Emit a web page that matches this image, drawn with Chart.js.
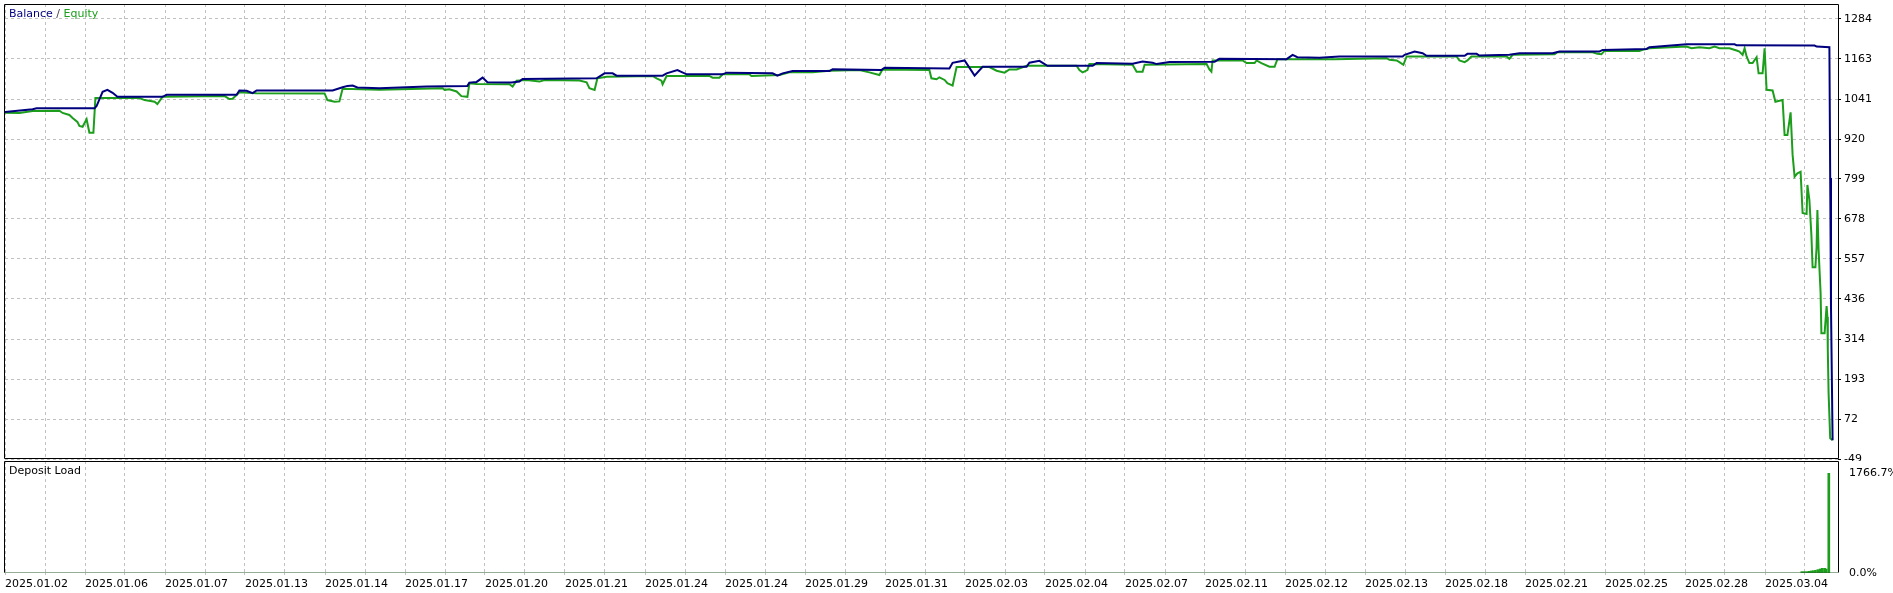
<!DOCTYPE html>
<html>
<head>
<meta charset="utf-8">
<script src="https://cdn.jsdelivr.net/npm/chart.js@4/dist/chart.umd.min.js"></script>
<style>
  body { margin: 0; width: 1893px; height: 593px; overflow: hidden; background: #fff; font-family: "DejaVu Sans", sans-serif; }
  canvas { position: absolute; left: 0; }
  #grafico { top: 0; }
  #carga { top: 459px; }
  .rotulo { position: absolute; left: 9px; font-size: 11px; white-space: nowrap; }
  #legenda { top: 7px; }
  #titulo-carga { top: 464px; color: #000; }
</style>
</head>
<body>
<canvas id="grafico" width="1893" height="461"></canvas>
<canvas id="carga" width="1893" height="134"></canvas>
<div id="legenda" class="rotulo"><span style="color:#00007f">Balance</span><span style="color:#404040"> / </span><span style="color:#1c9e1c">Equity</span></div>
<div id="titulo-carga" class="rotulo">Deposit Load</div>
<script>
const datas = [
  "2025.01.02", "2025.01.06", "2025.01.07", "2025.01.13", "2025.01.14", "2025.01.17",
  "2025.01.20", "2025.01.21", "2025.01.24", "2025.01.24", "2025.01.29", "2025.01.31",
  "2025.02.03", "2025.02.04", "2025.02.07", "2025.02.11", "2025.02.12", "2025.02.13",
  "2025.02.18", "2025.02.21", "2025.02.25", "2025.02.28", "2025.03.04",
];

// posição no teste (1 unidade = uma coluna da grade) e valores
const balancoX = [
  0, 0.69, 0.79, 2.24, 2.29, 2.44, 2.56, 2.69, 2.81, 3.94, 4.04, 5.79, 5.86, 6.04, 6.19, 6.29,
  8.19, 8.44, 8.56, 8.69, 8.81, 9.36, 10.54, 11.56, 11.61, 11.79, 11.94, 12.06, 12.66, 12.86,
  12.94, 14.79, 14.99, 15.19, 15.29, 16.44, 16.54, 16.81, 17.04, 17.94, 18.04, 19.19, 19.31,
  19.44, 19.69, 20.61, 20.69, 21.91, 21.99, 23.61, 23.69, 23.99, 24.24, 24.44, 25.54, 25.61,
  25.86, 26.06, 27.19, 27.29, 28.19, 28.44, 28.69, 28.79, 29.11, 30.24, 30.36, 32.04, 32.19,
  32.31, 32.86, 33.36, 34.94, 34.99, 35.24, 35.44, 35.54, 36.49, 36.56, 36.79, 36.86, 37.61,
  37.86, 38.69, 38.86, 39.86, 39.94, 41.04, 41.11, 42.04, 43.24, 43.29, 45.24, 45.29, 45.61,
  45.63, 45.65, 45.69,
];
const balancoY = [
  1002, 1010, 1013, 1013, 1020, 1063, 1069, 1060, 1048, 1048, 1054, 1054, 1067, 1066, 1059, 1067,
  1067, 1077, 1081, 1082, 1076, 1074, 1079, 1081, 1091, 1093, 1106, 1092, 1091, 1094,
  1102, 1104, 1119, 1119, 1112, 1112, 1119, 1129, 1116, 1116, 1121, 1119, 1112,
  1119, 1126, 1126, 1131, 1129, 1136, 1134, 1151, 1158, 1112, 1139, 1139, 1151,
  1157, 1142, 1142, 1150, 1148, 1155, 1151, 1147, 1153, 1154, 1163, 1162, 1175,
  1168, 1166, 1170, 1170, 1175, 1185, 1180, 1172, 1172, 1178, 1178, 1173, 1175,
  1180, 1180, 1185, 1185, 1190, 1193, 1198, 1207, 1207, 1204, 1203, 1200, 1198,
  802, 408, 8,
];

const equityX = [
  0, 0.36, 0.69, 1.36, 1.44, 1.61, 1.69, 1.81, 1.86, 1.94, 2.04, 2.11, 2.21, 2.26, 3.36, 3.49,
  3.74, 3.81, 3.94, 5.49, 5.61, 5.69, 5.86, 6.29, 7.99, 8.06, 8.24, 8.36, 8.44, 9.36, 10.94,
  10.99, 11.11, 11.29, 11.41, 11.56, 11.61, 11.79, 12.61, 12.69, 12.79, 13.04, 13.36, 13.49,
  14.36, 14.54, 14.61, 14.74, 14.81, 15.04, 16.19, 16.29, 16.41, 16.44, 16.54, 17.61, 17.69,
  17.86, 17.94, 18.61, 18.66, 19.36, 19.61, 20.19, 20.61, 21.36, 21.61, 21.86, 21.94, 23.11,
  23.16, 23.29, 23.36, 23.49, 23.56, 23.69, 23.79, 24.61, 24.79, 24.99, 25.11, 25.29, 25.54,
  26.79, 26.86, 26.94, 27.06, 27.11, 28.19, 28.29, 28.44, 28.49, 30.04, 30.11, 30.16, 30.19,
  30.94, 31.04, 31.24, 31.29, 31.41, 31.61, 31.74, 31.81, 33.24, 34.54, 34.61, 34.79, 34.86,
  34.96, 35.04, 36.29, 36.36, 36.49, 36.56, 36.66, 37.54, 37.61, 37.69, 38.74, 38.81, 39.69,
  39.81, 39.91, 39.99, 40.86, 40.94, 41.11, 42.04, 42.16, 42.36, 42.61, 42.74, 42.86, 43.11,
  43.29, 43.36, 43.44, 43.49, 43.54, 43.61, 43.69, 43.79, 43.84, 43.94, 43.99, 44.04, 44.19,
  44.26, 44.36, 44.44, 44.49, 44.56, 44.64, 44.69, 44.74, 44.81, 44.89, 44.94, 45.04, 45.06,
  45.11, 45.16, 45.19, 45.26, 45.29, 45.31, 45.34, 45.39, 45.41, 45.49, 45.54, 45.56, 45.57,
  45.59, 45.63, 45.69,
];
const equityY = [
  1000, 999, 1005, 1006, 999, 993, 984, 972, 960, 957, 980, 939, 939, 1044, 1044, 1038,
  1033, 1026, 1048, 1050, 1041, 1042, 1062, 1059, 1058, 1038, 1033, 1034, 1072, 1069, 1074,
  1069, 1071, 1064, 1050, 1048, 1089, 1087, 1086, 1079, 1097, 1099, 1094, 1099,
  1097, 1092, 1074, 1069, 1104, 1109, 1111, 1104, 1097, 1086, 1111, 1111, 1106,
  1106, 1116, 1116, 1111, 1114, 1122, 1122, 1127, 1129, 1122, 1114, 1131, 1129,
  1104, 1101, 1107, 1099, 1089, 1082, 1138, 1138, 1127, 1121, 1131, 1131, 1142,
  1142, 1129, 1122, 1129, 1147, 1145, 1124, 1124, 1145, 1147, 1131, 1124, 1158,
  1158, 1150, 1150, 1158, 1150, 1139, 1139, 1162, 1162, 1165, 1160, 1158, 1153,
  1145, 1170, 1170, 1158, 1153, 1158, 1170, 1170, 1163, 1175, 1177, 1183, 1183,
  1178, 1177, 1187, 1187, 1190, 1195, 1200, 1195, 1198, 1195, 1200, 1195, 1195,
  1188, 1185, 1175, 1195, 1170, 1150, 1150, 1168, 1119, 1119, 1195, 1069, 1067,
  1033, 1036, 1038, 932, 932, 1001, 872, 806, 816, 821, 696, 693, 781,
  735, 629, 532, 532, 593, 705, 584, 453, 332, 332, 414, 381, 280,
  150, 14, 8,
];

const cargaX = [44.92, 44.98, 45.04, 45.1, 45.155, 45.205, 45.26, 45.32, 45.38, 45.43, 45.49, 45.53, 45.595];
const cargaY = [24, 24, 24, 30, 36, 41, 47, 59, 71, 83, 83, 71, 1766.7];

const ticksSaldo = [-49, 72, 193, 314, 436, 557, 678, 799, 920, 1041, 1163, 1284];
const ticksCarga = [0, 1766.7];

const fonte = { family: "DejaVu Sans", size: 11 };
const cinza = "#c0c0c0";
const colunas = [];
for (let i = 0; i <= 45; i++) colunas.push(i);

function pontos(xs, ys) {
  return xs.map((x, i) => ({ x: x, y: ys[i] }));
}

function semMargem(s) {
  s.paddingTop = 0;
  s.paddingBottom = 0;
  s.paddingLeft = 0;
  s.paddingRight = 0;
}

function moldura(inferiorPontilhado) {
  return {
    id: "moldura",
    afterDraw(chart) {
      const { ctx, chartArea: a } = chart;
      const x1 = Math.floor(a.left) - 0.5;
      const x2 = Math.round(a.right) + 0.5;
      const y1 = Math.floor(a.top) + 0.5;
      const y2 = Math.round(a.bottom) - 0.5;
      ctx.save();
      ctx.strokeStyle = "#000";
      ctx.lineWidth = 1;
      ctx.beginPath();
      ctx.moveTo(x1, y2);
      ctx.lineTo(x1, y1);
      ctx.lineTo(x2, y1);
      ctx.lineTo(x2, y2);
      if (!inferiorPontilhado) ctx.lineTo(x1, y2);
      ctx.stroke();
      if (inferiorPontilhado) {
        ctx.setLineDash([1, 1]);
        ctx.strokeStyle = "#2a5a2a";
        ctx.beginPath();
        ctx.moveTo(x1, y2);
        ctx.lineTo(x2, y2);
        ctx.stroke();
      }
      ctx.restore();
    },
  };
}

const eixoX = {
  type: "linear",
  min: 0,
  max: 45.825,
  offset: false,
  afterBuildTicks: (s) => { s.ticks = colunas.map((v) => ({ value: v })); },
  border: { display: false, dash: [3, 3] },
};

new Chart(document.getElementById("grafico").getContext("2d"), {
  type: "line",
  data: {
    datasets: [
      { label: "Balance", data: pontos(balancoX, balancoY), borderColor: "#00007f", borderWidth: 2, pointRadius: 0, tension: 0 },
      { label: "Equity", data: pontos(equityX, equityY), borderColor: "#1c9e1c", borderWidth: 2, pointRadius: 0, tension: 0 },
    ],
  },
  options: {
    responsive: false,
    animation: false,
    layout: { padding: { left: 5, top: 4, right: 0, bottom: 2 } },
    plugins: { legend: { display: false }, tooltip: { enabled: false } },
    scales: {
      x: Object.assign({}, eixoX, {
        grid: { color: cinza, drawTicks: false, offset: false },
        ticks: { display: false },
        afterFit: (s) => { s.height = 0; semMargem(s); },
      }),
      y: {
        position: "right",
        min: -49,
        max: 1329,
        afterBuildTicks: (s) => { s.ticks = ticksSaldo.map((v) => ({ value: v })); },
        afterFit: (s) => { s.width = 55; semMargem(s); },
        ticks: { font: fonte, color: "#000", padding: 3, callback: (v) => String(v) },
        grid: { color: cinza, drawTicks: true, tickLength: 3, tickColor: "#000" },
        border: { display: false, dash: [3, 3] },
      },
    },
  },
  plugins: [moldura(false)],
});

new Chart(document.getElementById("carga").getContext("2d"), {
  type: "bar",
  data: {
    datasets: [
      { label: "Deposit Load", data: pontos(cargaX, cargaY), backgroundColor: "#1c9e1c", barThickness: 2 },
    ],
  },
  options: {
    responsive: false,
    animation: false,
    layout: { padding: { left: 5, top: 2, right: 0, bottom: 0 } },
    plugins: { legend: { display: false }, tooltip: { enabled: false } },
    scales: {
      x: Object.assign({}, eixoX, {
        grid: { color: cinza, drawTicks: true, tickLength: 2, tickColor: cinza, offset: false },
        ticks: {
          font: fonte,
          color: "#000",
          padding: 3,
          align: "start",
          autoSkip: false,
          maxRotation: 0,
          callback: (v) => (v % 2 === 0 ? datas[v / 2] : ""),
        },
        afterFit: (s) => { s.height = 20; semMargem(s); },
      }),
      y: {
        position: "right",
        min: 0,
        max: 1985,
        afterBuildTicks: (s) => { s.ticks = ticksCarga.map((v) => ({ value: v })); },
        afterFit: (s) => { s.width = 55; semMargem(s); },
        ticks: { font: fonte, color: "#000", padding: 3, callback: (v) => v.toFixed(1) + "%" },
        grid: { display: false },
        border: { display: false },
      },
    },
  },
  plugins: [moldura(true)],
});
</script>
</body>
</html>
